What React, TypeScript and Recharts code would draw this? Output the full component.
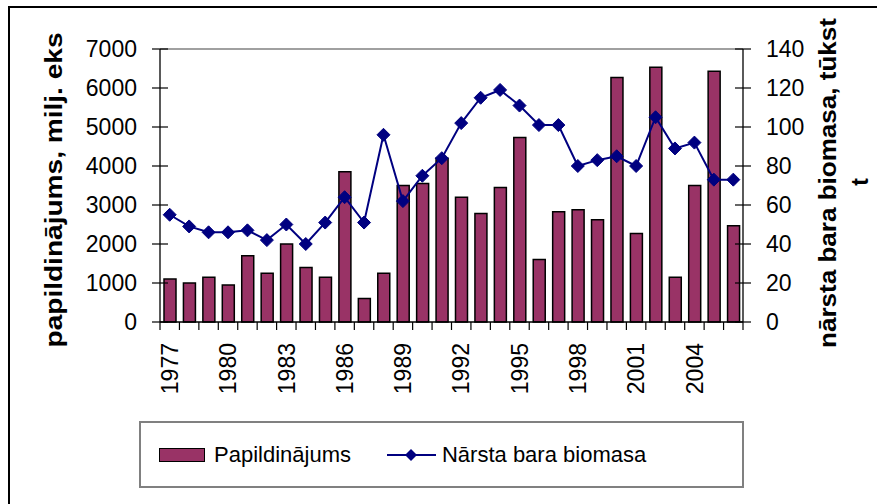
import React from 'react'
import {
  ComposedChart, Bar, Line, XAxis, YAxis, ReferenceLine, Legend,
} from 'recharts'

const years = [
  '1977', '1978', '1979', '1980', '1981', '1982', '1983', '1984', '1985', '1986',
  '1987', '1988', '1989', '1990', '1991', '1992', '1993', '1994', '1995', '1996',
  '1997', '1998', '1999', '2000', '2001', '2002', '2003', '2004', '2005', '2006',
]
// Papildinājums, milj. eks
const recruitment = [
  1100, 1000, 1150, 950, 1700, 1250, 2000, 1400, 1150, 3850,
  600, 1250, 3500, 3550, 4200, 3200, 2780, 3450, 4730, 1600,
  2830, 2880, 2620, 6270, 2270, 6530, 1150, 3500, 6430, 2470,
]
// Nārsta bara biomasa, tūkst t
const ssb = [
  55, 49, 46, 46, 47, 42, 50, 40, 51, 64,
  51, 96, 62, 75, 84, 102, 115, 119, 111, 101,
  101, 80, 83, 85, 80, 105, 89, 92, 73, 73,
]
const leftTicks = [0, 1000, 2000, 3000, 4000, 5000, 6000, 7000]
const rightTicks = [0, 20, 40, 60, 80, 100, 120, 140]

const FONT = "Arial, 'Liberation Sans', sans-serif"
const BAR_COLOR = '#993366'
const LINE_COLOR = '#000080'

const data = years.map((year, i) => ({ year, recruitment: recruitment[i], ssb: ssb[i] }))

// ── ticks: short lines crossing the axis + label ──────────────────────────
function LeftTick({ x, y, payload }: any) {
  return (
    <g>
      <line x1={x - 8} x2={x + 8} y1={y} y2={y} stroke="#000" strokeWidth={1.2} />
      <text x={x - 23} y={y} dy="0.36em" textAnchor="end" fontSize={23} fontFamily={FONT} fill="#000">
        {payload.value}
      </text>
    </g>
  )
}

function RightTick({ x, y, payload }: any) {
  return (
    <g>
      <line x1={x - 8} x2={x + 8} y1={y} y2={y} stroke="#000" strokeWidth={1.2} />
      <text x={x + 23} y={y} dy="0.36em" textAnchor="start" fontSize={23} fontFamily={FONT} fill="#000">
        {payload.value}
      </text>
    </g>
  )
}

function YearTick({ x, y, payload, index }: any) {
  const half = payload.offset ?? 583 / years.length / 2
  return (
    <g>
      <line x1={x - half} x2={x - half} y1={y} y2={y + 8} stroke="#000" strokeWidth={1.2} />
      {index === years.length - 1 && (
        <line x1={x + half} x2={x + half} y1={y} y2={y + 8} stroke="#000" strokeWidth={1.2} />
      )}
      {index % 3 === 0 && (
        <text
          transform={`translate(${x},${y + 21}) rotate(-90)`}
          dy="0.36em"
          textAnchor="end"
          fontSize={23}
          fontFamily={FONT}
          fill="#000"
        >
          {payload.value}
        </text>
      )}
    </g>
  )
}

function Diamond({ cx, cy }: any) {
  if (cx == null || cy == null) return null
  const r = 6.5
  return (
    <polygon
      points={`${cx},${cy - r} ${cx + r},${cy} ${cx},${cy + r} ${cx - r},${cy}`}
      fill={LINE_COLOR}
      stroke={LINE_COLOR}
    />
  )
}

function LegendBox() {
  return (
    <div
      style={{
        boxSizing: 'border-box', width: 605, height: 67,
        border: '2px solid #808080', background: '#fff',
        display: 'flex', alignItems: 'center',
        fontFamily: FONT, fontSize: 22, color: '#000',
      }}
    >
      <span style={{
        display: 'inline-block', boxSizing: 'border-box', width: 46, height: 14,
        marginLeft: 18, background: BAR_COLOR, border: '1.5px solid #000',
      }} />
      <span style={{ marginLeft: 9 }}>Papildinājums</span>
      <svg width={50} height={16} style={{ marginLeft: 36 }}>
        <line x1={0} x2={49} y1={8} y2={8} stroke={LINE_COLOR} strokeWidth={2} />
        <polygon points="24,2 30,8 24,14 18,8" fill={LINE_COLOR} />
      </svg>
      <span style={{ marginLeft: 5 }}>Nārsta bara biomasa</span>
    </div>
  )
}

export default function App() {
  return (
    <div style={{ position: 'absolute', left: 0, top: 0, width: 877, height: 504, background: '#fff', overflow: 'hidden' }}>
      <div style={{
        position: 'absolute', left: 8, top: 6, width: 920, height: 540,
        border: '2px solid #000',
      }} />
      <div style={{ position: 'absolute', left: 0, top: 0 }}>
        <ComposedChart
          width={877}
          height={504}
          data={data}
          margin={{ top: 49, right: 0, bottom: 122, left: 0 }}
          barSize={12}
        >
          <XAxis
            dataKey="year"
            interval={0}
            tick={<YearTick />}
            tickLine={false}
            tickSize={0}
            tickMargin={0}
            height={60}
            axisLine={{ stroke: '#000', strokeWidth: 1.3 }}
          />
          <YAxis
            yAxisId="left"
            width={160}
            domain={[0, 7000]}
            ticks={leftTicks}
            tick={<LeftTick />}
            tickLine={false}
            tickSize={0}
            tickMargin={0}
            axisLine={{ stroke: '#000', strokeWidth: 1.3 }}
            label={(props: any) => (
              <text
                transform="translate(62,190) rotate(-90)"
                textAnchor="middle"
                fontSize={23}
                fontWeight="bold"
                fontFamily={FONT}
                fill="#000"
                textLength={315}
                lengthAdjust="spacingAndGlyphs"
              >
                papildinājums, milj. eks
              </text>
            )}
          />
          <YAxis
            yAxisId="right"
            orientation="right"
            width={134}
            domain={[0, 140]}
            ticks={rightTicks}
            tick={<RightTick />}
            tickLine={false}
            tickSize={0}
            tickMargin={0}
            axisLine={{ stroke: '#000', strokeWidth: 1.3 }}
            label={(props: any) => (
              <g>
                <text
                  transform="translate(836,183) rotate(-90)"
                  textAnchor="middle"
                  fontSize={23}
                  fontWeight="bold"
                  fontFamily={FONT}
                  fill="#000"
                  textLength={330}
                  lengthAdjust="spacingAndGlyphs"
                >
                  nārsta bara biomasa, tūkst
                </text>
                <text
                  transform="translate(868,182) rotate(-90)"
                  textAnchor="middle"
                  fontSize={23}
                  fontWeight="bold"
                  fontFamily={FONT}
                  fill="#000"
                >
                  t
                </text>
              </g>
            )}
          />
          <ReferenceLine yAxisId="left" y={7000} stroke="#808080" strokeWidth={1.3} />
          <Bar
            yAxisId="left"
            dataKey="recruitment"
            name="Papildinājums"
            fill={BAR_COLOR}
            stroke="#000"
            strokeWidth={1.5}
            isAnimationActive={false}
          />
          <Line
            yAxisId="right"
            dataKey="ssb"
            name="Nārsta bara biomasa"
            type="linear"
            stroke={LINE_COLOR}
            strokeWidth={2}
            dot={<Diamond />}
            activeDot={false}
            isAnimationActive={false}
          />
          <Legend
            layout="horizontal"
            verticalAlign="middle"
            align="center"
            content={() => <LegendBox />}
            wrapperStyle={{ left: 139, top: 421, width: 605, height: 67 }}
          />
        </ComposedChart>
      </div>
    </div>
  )
}
